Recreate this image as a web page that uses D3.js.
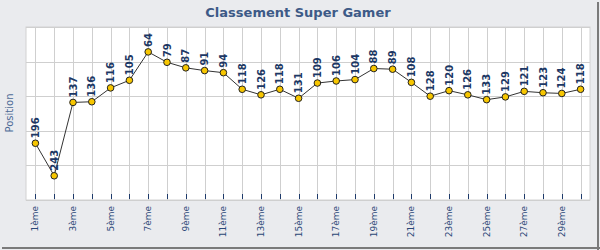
<!DOCTYPE html>
<html>
<head>
<meta charset="utf-8">
<script src="https://cdn.jsdelivr.net/npm/d3@7"></script>
<style>
  body { margin: 0; background: #fff; }
  svg { display: block; }
</style>
</head>
<body>
<svg id="chart" width="600" height="250"></svg>
<script>
// tour number and ranking reached at each tour
const rounds = d3.range(1, 31);
const positions = [196, 243, 137, 136, 116, 105, 64, 79, 87, 91, 94, 118, 126, 118, 131,
                   109, 106, 104, 88, 89, 108, 128, 120, 126, 133, 129, 121, 123, 124, 118];
const yDomain = [28, 278];
const title = "Classement Super Gamer";
const yTitle = "Position";

const width = 600, height = 250;
const plot = { left: 26, right: 590, top: 27, bottom: 200 };

const svg = d3.select("#chart");

// background + shadow frame
svg.append("rect").attr("width", width).attr("height", height).attr("fill", "#eaebee");
svg.append("line").attr("x1", 598).attr("x2", 598).attr("y1", 2).attr("y2", 250)
  .attr("stroke", "#7a7a7a").attr("stroke-width", 2);
svg.append("line").attr("x1", 2).attr("x2", 600).attr("y1", 248).attr("y2", 248)
  .attr("stroke", "#7a7a7a").attr("stroke-width", 2);

svg.append("rect")
  .attr("x", plot.left).attr("y", plot.top)
  .attr("width", plot.right - plot.left).attr("height", plot.bottom - plot.top)
  .attr("fill", "#fff").attr("stroke", "#d2d2d2");

var x = d3.scaleBand().domain(rounds).range([plot.left, plot.right]);
var cx = (d) => x(d) + x.bandwidth() / 2;
var y = d3.scaleLinear().domain(yDomain).range([plot.top, plot.bottom]);

// grid
const gridVals = d3.range(0, 6).map((i) => yDomain[0] + (i * (yDomain[1] - yDomain[0])) / 5);
svg.append("g").selectAll("line").data(gridVals).enter().append("line")
  .attr("x1", plot.left).attr("x2", plot.right)
  .attr("y1", (d) => Math.round(y(d)) + 0.5).attr("y2", (d) => Math.round(y(d)) + 0.5)
  .attr("stroke", "#cfcfcf");
svg.append("g").selectAll("line").data(rounds).enter().append("line")
  .attr("x1", (d) => Math.round(cx(d)) + 0.5).attr("x2", (d) => Math.round(cx(d)) + 0.5)
  .attr("y1", plot.top).attr("y2", plot.bottom)
  .attr("stroke", "#cfcfcf");

// ticks
svg.append("g").selectAll("line").data(rounds).enter().append("line")
  .attr("x1", (d) => Math.round(cx(d)) + 0.5).attr("x2", (d) => Math.round(cx(d)) + 0.5)
  .attr("y1", plot.bottom - 6).attr("y2", plot.bottom - 1)
  .attr("stroke", "#1e3a6a");

// x labels, one out of two
svg.append("g").selectAll("text").data(rounds.filter((d) => d % 2 === 1)).enter().append("text")
  .attr("transform", (d) => `translate(${cx(d)},206) rotate(-90)`)
  .attr("text-anchor", "end")
  .attr("dominant-baseline", "central")
  .attr("font-family", "DejaVu Sans")
  .attr("font-size", "9px")
  .attr("fill", "#2b4877")
  .text((d) => `${d}ème`);

// line
var lineGen = d3.line().x((d, i) => cx(rounds[i])).y((d) => y(d));
svg.append("path").datum(positions)
  .attr("d", lineGen)
  .attr("fill", "none")
  .attr("stroke", "#333")
  .attr("stroke-width", 1);

svg.append("g").selectAll("circle").data(positions).enter().append("circle")
  .attr("cx", (d, i) => cx(rounds[i]))
  .attr("cy", (d) => y(d))
  .attr("r", 3.3)
  .attr("fill", "#f7c600")
  .attr("stroke", "#222")
  .attr("stroke-width", 1);

// value labels
svg.append("g").selectAll("text").data(positions).enter().append("text")
  .attr("transform", (d, i) => `translate(${cx(rounds[i])},${y(d) - 5}) rotate(-90)`)
  .attr("text-anchor", "start")
  .attr("dominant-baseline", "central")
  .attr("font-family", "DejaVu Sans")
  .attr("font-weight", "bold")
  .attr("font-size", "10px")
  .attr("fill", "#1c3764")
  .text((d) => d);

// titles
svg.append("text")
  .attr("x", 298).attr("y", 17)
  .attr("text-anchor", "middle")
  .attr("font-family", "DejaVu Sans")
  .attr("font-weight", "bold")
  .attr("font-size", "13px")
  .attr("fill", "#3d5a87")
  .text(title);

svg.append("text")
  .attr("transform", "translate(9,113) rotate(-90)")
  .attr("text-anchor", "middle")
  .attr("dominant-baseline", "central")
  .attr("font-family", "DejaVu Sans")
  .attr("font-size", "10px")
  .attr("fill", "#4d6a96")
  .text(yTitle);
</script>
</body>
</html>
